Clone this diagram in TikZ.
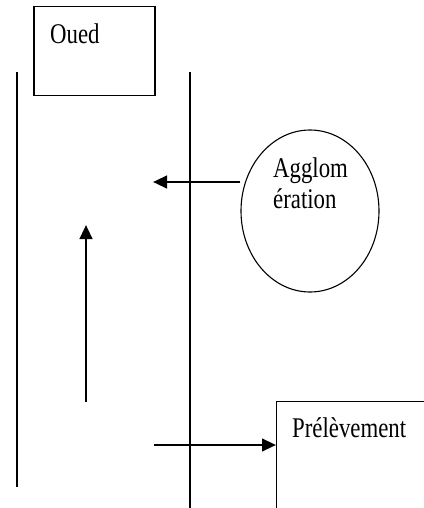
\documentclass[tikz,border=0pt]{standalone}
\usepackage{fontspec}
\setmainfont{Liberation Serif}
\newfontfamily\narrowserif[FakeStretch=0.8]{Liberation Serif}
\usetikzlibrary{arrows.meta,shapes.geometric}
\begin{document}
\begin{tikzpicture}[x=1pt,y=-1pt,
  txt/.style={font=\narrowserif\fontsize{28.5}{31}\selectfont,inner sep=0pt,anchor=base west},
  thin line/.style={line width=1.1pt},
  flow/.style={line width=2.6pt,-{Triangle[length=14pt,width=12.5pt]}}]
\useasboundingbox (0,0) rectangle (423,508);
\fill[white] (0,0) rectangle (423,508);
% boxes
\node[draw,line width=1.1pt,minimum width=121pt,minimum height=89pt,inner sep=0pt] (oued) at (94.5,51) {};
\node[txt] (ouedt) at (50,44) {Oued};
\node[draw,ellipse,line width=1.1pt,minimum width=138pt,minimum height=162pt,inner sep=0pt] (agg) at (310,211) {};
\node[txt] (aggt1) at (273,177) {Agglom};
\node[txt] (aggt2) at (273,208) {ération};
\node[draw,line width=1.1pt,minimum width=160pt,minimum height=120pt,inner sep=0pt,anchor=north west] (prel) at (276,401) {};
\node[txt] (prelt) at (292,437) {Prélèvement};
% river banks
\coordinate (l1) at (17,72);
\coordinate (l2) at (17,487);
\coordinate (r1) at (190,72);
\coordinate (r2) at (190,510);
\draw[thin line] (l1) -- (l2);
\draw[thin line] (r1) -- (r2);
% arrows
\coordinate (aggend) at (153,182);
\draw[flow] (agg.west |- aggend) -- (aggend);
\coordinate (up1) at (86,402);
\coordinate (up2) at (86,225);
\draw[flow] (up1) -- (up2);
\coordinate (pstart) at (154,445);
\draw[flow] (pstart) -- (prel.west |- pstart);
\end{tikzpicture}
\end{document}
